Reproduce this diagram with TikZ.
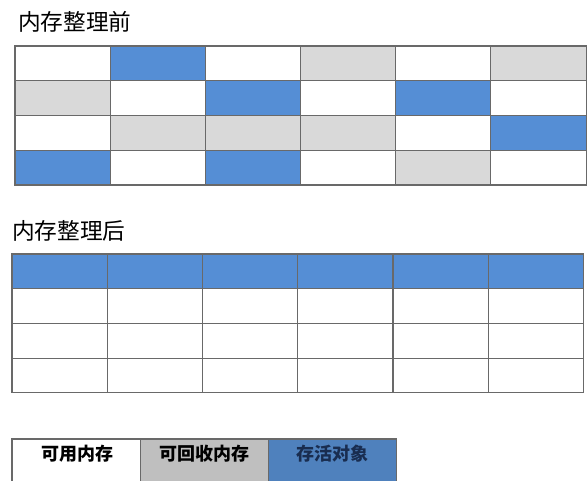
\documentclass[tikz,border=0pt]{standalone}
\usepackage{fontspec}
\newfontfamily\cjk{Noto Sans CJK SC}
\definecolor{gblue}{RGB}{85,142,213}
\definecolor{ggray}{RGB}{217,217,217}
\definecolor{gline}{RGB}{105,105,105}
\definecolor{lgray}{RGB}{191,191,191}
\definecolor{lblue}{RGB}{79,129,189}
\definecolor{ltext}{RGB}{25,45,80}
\tikzset{
  cell/.style={draw=gline, line width=0.8pt, anchor=north west, inner sep=0pt, outer sep=0pt,
    minimum width=71.4pt, minimum height=26.05pt},
  W/.style={fill=white},
  B/.style={fill=gblue},
  G/.style={fill=ggray},
  title/.style={font=\cjk\fontsize{17}{19}\selectfont, inner sep=0pt, anchor=west},
  lcell/.style={draw=gline, line width=0.8pt, anchor=north west, inner sep=0pt, outer sep=0pt,
    minimum width=96.15pt, minimum height=40pt},
  ltxt/.style={font=\cjk\bfseries\fontsize{13.5}{15}\selectfont, inner sep=0pt},
}
\begin{document}
\begin{tikzpicture}[x=0.75pt,y=-0.75pt]
\useasboundingbox[fill=white] (0,0) rectangle (588,481);
\node[title] (t1) at (18,21.5) {内存整理前};
\node[title] (t2) at (12,231) {内存整理后};
% before
\foreach \row/\pat in {1/{W,B,W,G,W,G},2/{G,W,B,W,B,W},3/{W,G,G,G,W,B},4/{B,W,B,W,G,W}}{
  \foreach \c [count=\col] in \pat {
    \node[cell,\c] (a-\row-\col) at ({15+(\col-1)*95.17},{46+(\row-1)*34.75}) {};
  }
}
% after
\foreach \row in {1,2,3,4}{
  \foreach \col in {1,...,6}{
    \ifnum\row=1 \def\c{B}\else\def\c{W}\fi
    \node[cell,\c] (b-\row-\col) at ({12+(\col-1)*95.25},{254+(\row-1)*34.7}) {};
  }
}
% legend
\node[lcell,fill=white] (l1) at (12,439) {};
\node[lcell,fill=lgray] (l2) at (140.2,439) {};
\node[lcell,fill=lblue] (l3) at (268.4,439) {};
\node[ltxt] (l1t) at (77.5,453.5) {可用内存};
\node[ltxt] (l2t) at (204,453.5) {可回收内存};
\node[ltxt,text=ltext] (l3t) at (332.5,453.5) {存活对象};
\end{tikzpicture}
\end{document}
